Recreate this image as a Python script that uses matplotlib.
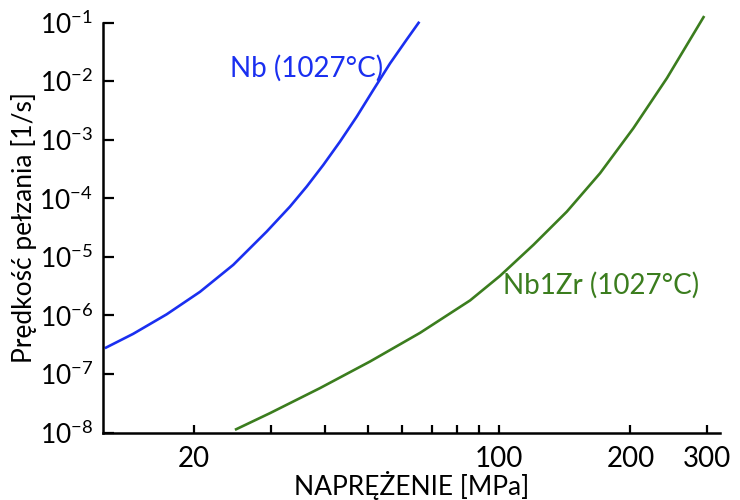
import matplotlib
matplotlib.use('Agg')
from matplotlib import pyplot as plt
from matplotlib.ticker import FixedLocator, NullFormatter

plt.rcParams['font.family'] = ['Lato', 'DejaVu Sans']
plt.rcParams['mathtext.fontset'] = 'custom'
plt.rcParams['mathtext.rm'] = 'Lato'

# Nb at 1027 C
nb_stress = [12.48, 14.49, 17.29, 20.62, 24.58, 29.32, 33.16, 36.22, 39.54,
             43.18, 47.17, 51.48, 56.23, 61.42, 65.65]
nb_rate = [2.75e-7, 4.83e-7, 1.04e-6, 2.52e-6, 7.28e-6, 2.69e-5, 7.19e-5, 1.58e-4,
           3.70e-4, 9.25e-4, 2.47e-3, 7.05e-3, 2.0e-2, 5.13e-2, 1.03e-1]

# Nb1Zr at 1027 C
nbzr_stress = [24.8, 29.84, 38.86, 50.6, 65.9, 85.82, 100.5, 119.9, 143.0,
               170.4, 203.2, 242.5, 295.3]
nbzr_rate = [1.11e-8, 2.14e-8, 5.73e-8, 1.63e-7, 5.03e-7, 1.80e-6, 4.72e-6, 1.60e-5,
             5.90e-5, 2.67e-4, 1.57e-3, 1.12e-2, 1.29e-1]

x_major = [20, 100, 200, 300]
x_major_labels = ['20', '100', '200', '300']
x_minor = [30, 40, 50, 60, 70, 80, 90]
y_ticks = [1e-8, 1e-7, 1e-6, 1e-5, 1e-4, 1e-3, 1e-2, 1e-1]
y_labels = [r'$\mathregular{10^{-%d}}$' % k for k in [8, 7, 6, 5, 4, 3, 2, 1]]

blue = '#1a2ff0'
green = '#3b7d1e'

fig = plt.figure(figsize=(7.4, 5.0), dpi=100)
ax = fig.add_axes([0.139, 0.135, 0.834, 0.82])

ax.plot(nb_stress, nb_rate, color=blue, lw=1.9, clip_on=False,
        solid_joinstyle='round', solid_capstyle='butt')
ax.plot(nbzr_stress, nbzr_rate, color=green, lw=1.9, clip_on=False,
        solid_joinstyle='round', solid_capstyle='butt')

ax.set_xscale('log')
ax.set_yscale('log')
ax.set_xlim(12.35, 321)
ax.set_ylim(1e-8, 1e-1)

ax.xaxis.set_major_locator(FixedLocator(x_major))
ax.set_xticklabels(x_major_labels)
ax.xaxis.set_minor_locator(FixedLocator(x_minor))
ax.xaxis.set_minor_formatter(NullFormatter())
ax.yaxis.set_major_locator(FixedLocator(y_ticks))
ax.set_yticklabels(y_labels)
ax.yaxis.set_minor_locator(FixedLocator([]))

for s in ['top', 'right']:
    ax.spines[s].set_visible(False)
for s in ['left', 'bottom']:
    ax.spines[s].set_linewidth(1.8)

ax.tick_params(axis='x', which='both', direction='in', length=6, width=1.6, labelsize=20, pad=10)
ax.tick_params(axis='y', which='major', direction='in', length=8, width=1.6, labelsize=19, pad=7)

ax.text(24.2, 1.67e-2, 'Nb (1027°C)', color=blue, fontsize=20, ha='left', va='center')
ax.text(102, 3.2e-6, 'Nb1Zr (1027°C)', color=green, fontsize=20, ha='left', va='center')

ax.set_xlabel('NAPRĘŻENIE [MPa]', fontsize=19, labelpad=-1)
ax.set_ylabel('Prędkość pełzania [1/s]', fontsize=19, labelpad=2)

fig.savefig('out.png', dpi=100)
